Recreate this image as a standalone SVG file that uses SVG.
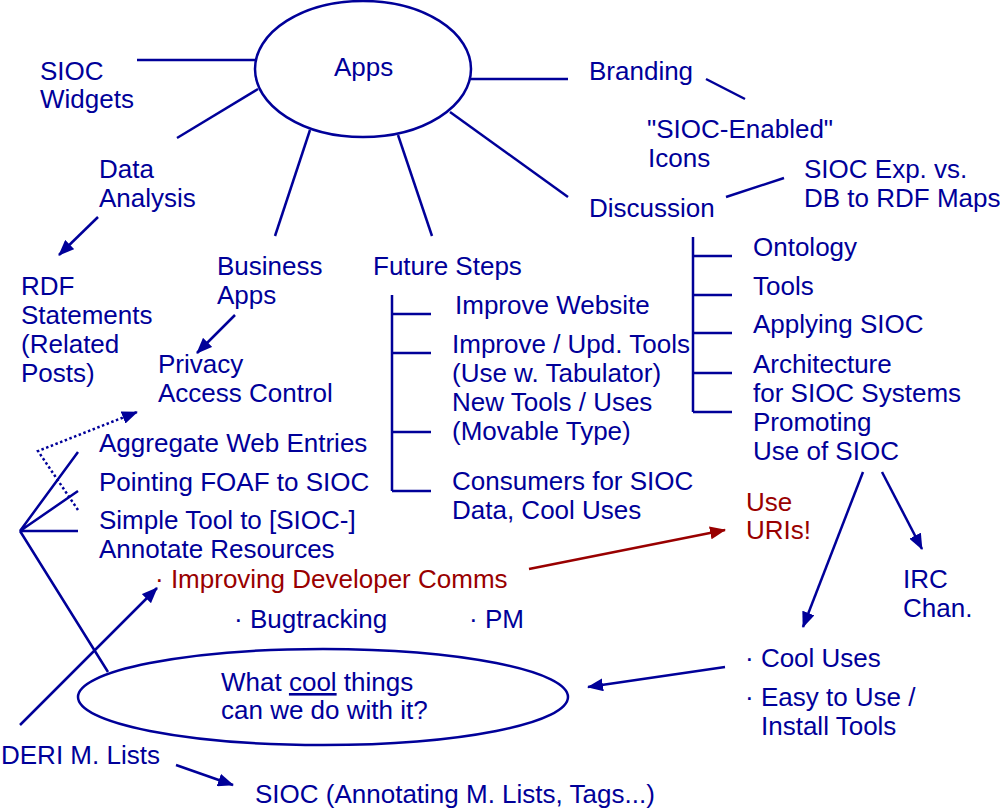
<svg xmlns="http://www.w3.org/2000/svg" width="1000" height="810" viewBox="0 0 1000 810">
<style>
text{font-family:"Liberation Sans",Arial,sans-serif;font-size:26px;fill:#000099}
.red{fill:#990000}
.ln{stroke:#000099;stroke-width:2.5;fill:none}
.rl{stroke:#990000;stroke-width:2.5;fill:none}
.dot{stroke:#000099;stroke-width:2.5;fill:none;stroke-dasharray:2.5 2.5}
.shape{stroke:#000099;stroke-width:2.5;fill:#ffffff}
</style>
<defs>
<marker id="ah" markerUnits="userSpaceOnUse" markerWidth="16" markerHeight="13" refX="15" refY="6.5" orient="auto"><path d="M0,0 L16,6.5 L0,13 Z" fill="#000099"/></marker>
<marker id="ahr" markerUnits="userSpaceOnUse" markerWidth="16" markerHeight="13" refX="15" refY="6.5" orient="auto"><path d="M0,0 L16,6.5 L0,13 Z" fill="#990000"/></marker>
</defs>
<rect width="1000" height="810" fill="#ffffff"/>
<g id="connectors">
<line class="ln" x1="137" y1="60" x2="256" y2="60"/>
<line class="ln" x1="177" y1="138" x2="258" y2="89"/>
<line class="ln" x1="310" y1="130" x2="275" y2="236"/>
<line class="ln" x1="398" y1="135" x2="432" y2="236"/>
<line class="ln" x1="470" y1="79" x2="568" y2="79"/>
<line class="ln" x1="450" y1="112" x2="568" y2="197"/>
<line class="ln" x1="706" y1="79" x2="745" y2="99"/>
<line class="ln" x1="726" y1="197" x2="784" y2="178"/>
<line class="ln" x1="98" y1="217" x2="59" y2="255" marker-end="url(#ah)"/>
<line class="ln" x1="235" y1="315" x2="197" y2="353" marker-end="url(#ah)"/>
<path class="ln" d="M392,295 V491 M392,314 H431 M392,353 H431 M392,432 H431 M392,491 H431"/>
<path class="ln" d="M693,237 V412 M693,256 H732 M693,295 H732 M693,333 H732 M693,373 H732 M693,412 H732"/>
<path class="ln" d="M78,452 L20,531 L78,491 M20,531 H78 M20,531 L108,672"/>
<path class="dot" d="M78,510 L38,451 L137,412" marker-end="url(#ah)"/>
<line class="ln" x1="20" y1="725" x2="157" y2="588" marker-end="url(#ah)"/>
<line class="ln" x1="176" y1="765" x2="233" y2="785" marker-end="url(#ah)"/>
<line class="rl" x1="529" y1="569" x2="725" y2="530" marker-end="url(#ahr)"/>
<line class="ln" x1="863" y1="472" x2="803" y2="627" marker-end="url(#ah)"/>
<line class="ln" x1="882" y1="472" x2="922" y2="549" marker-end="url(#ah)"/>
<line class="ln" x1="725" y1="667" x2="588" y2="687" marker-end="url(#ah)"/>
</g>
<g id="apps"><ellipse class="shape" cx="363" cy="69" rx="108" ry="68"/><text x="334" y="76">Apps</text></g>
<g id="sioc-widgets"><text x="40" y="80">SIOC</text><text x="40" y="108">Widgets</text></g>
<g id="data-analysis"><text x="99" y="178">Data</text><text x="99" y="207">Analysis</text></g>
<g id="rdf-statements"><text x="21" y="295">RDF</text><text x="21" y="324">Statements</text><text x="21" y="353">(Related</text><text x="21" y="382">Posts)</text></g>
<g id="business-apps"><text x="217" y="275">Business</text><text x="217" y="304">Apps</text></g>
<g id="privacy"><text x="158" y="373">Privacy</text><text x="158" y="402">Access Control</text></g>
<g id="future-steps"><text x="373" y="275">Future Steps</text></g>
<g id="improve-website"><text x="455" y="314">Improve Website</text></g>
<g id="improve-tools"><text x="452" y="353">Improve / Upd. Tools</text><text x="452" y="382">(Use w. Tabulator)</text><text x="452" y="411">New Tools / Uses</text><text x="452" y="440">(Movable Type)</text></g>
<g id="consumers"><text x="452" y="490">Consumers for SIOC</text><text x="452" y="519">Data, Cool Uses</text></g>
<g id="branding"><text x="589" y="80">Branding</text></g>
<g id="sioc-enabled"><text x="647" y="138">"SIOC-Enabled"</text><text x="648" y="167">Icons</text></g>
<g id="discussion"><text x="589" y="217">Discussion</text></g>
<g id="sioc-exp"><text x="804" y="178">SIOC Exp. vs.</text><text x="804" y="207">DB to RDF Maps</text></g>
<g id="ontology"><text x="753" y="256">Ontology</text></g>
<g id="tools"><text x="753" y="295">Tools</text></g>
<g id="applying"><text x="753" y="333">Applying SIOC</text></g>
<g id="architecture"><text x="753" y="373">Architecture</text><text x="753" y="402">for SIOC Systems</text></g>
<g id="promoting"><text x="753" y="431">Promoting</text><text x="753" y="460">Use of SIOC</text></g>
<g id="aggregate"><text x="99" y="452">Aggregate Web Entries</text></g>
<g id="pointing-foaf"><text x="99" y="491">Pointing FOAF to SIOC</text></g>
<g id="simple-tool"><text x="99" y="529">Simple Tool to [SIOC-]</text><text x="99" y="558">Annotate Resources</text></g>
<g id="improving-comms"><text class="red" x="155" y="588">· Improving Developer Comms</text></g>
<g id="bugtracking"><text x="234" y="628">· Bugtracking</text></g>
<g id="pm"><text x="469" y="628">· PM</text></g>
<g id="use-uris"><text class="red" x="746" y="511">Use</text><text class="red" x="746" y="539">URIs!</text></g>
<g id="irc"><text x="903" y="588">IRC</text><text x="903" y="617">Chan.</text></g>
<g id="cool-uses"><text x="745" y="667">· Cool Uses</text></g>
<g id="easy-tools"><text x="745" y="706">· Easy to Use /</text><text x="761" y="735">Install Tools</text></g>
<g id="cool-things"><ellipse class="shape" cx="323" cy="697" rx="245" ry="48"/><text x="221" y="691">What <tspan text-decoration="underline">cool</tspan> things</text><text x="221" y="719">can we do with it?</text></g>
<g id="deri-lists"><text x="1" y="764">DERI M. Lists</text></g>
<g id="sioc-annotating"><text x="255" y="803">SIOC (Annotating M. Lists, Tags...)</text></g>
</svg>
